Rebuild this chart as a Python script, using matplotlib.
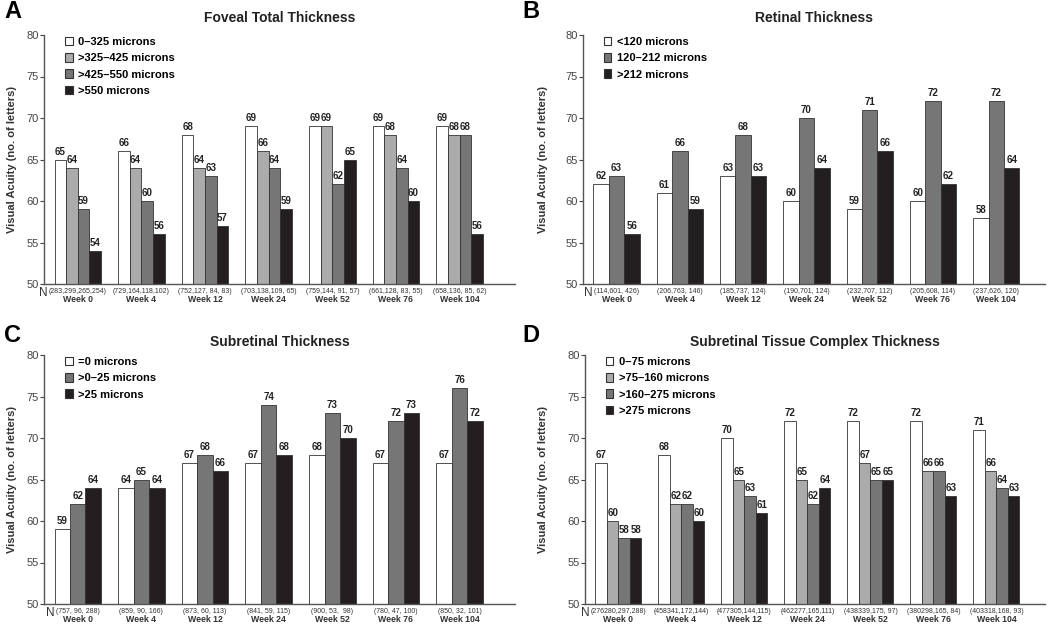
import matplotlib
matplotlib.use("Agg")
import matplotlib.pyplot as plt
from matplotlib.patches import Patch
from matplotlib.transforms import blended_transform_factory, offset_copy

plt.rcParams['font.family'] = ['Liberation Sans', 'DejaVu Sans']

weeks = ["Week 0", "Week 4", "Week 12", "Week 24", "Week 52", "Week 76", "Week 104"]

# A - Foveal total thickness
a_labels = ["0\u2013325 microns", ">325\u2013425 microns", ">425\u2013550 microns", ">550 microns"]
a_vals = [
    [65, 66, 68, 69, 69, 69, 69],
    [64, 64, 64, 66, 69, 68, 68],
    [59, 60, 63, 64, 62, 64, 68],
    [54, 56, 57, 59, 65, 60, 56],
]
a_n = ["(283,299,265,254)", "(729,164,118,102)", "(752,127, 84, 83)", "(703,138,109, 65)",
       "(759,144, 91, 57)", "(661,128, 83, 55)", "(658,136, 85, 62)"]

# B - Retinal thickness
b_labels = ["<120 microns", "120\u2013212 microns", ">212 microns"]
b_vals = [
    [62, 61, 63, 60, 59, 60, 58],
    [63, 66, 68, 70, 71, 72, 72],
    [56, 59, 63, 64, 66, 62, 64],
]
b_n = ["(114,601, 426)", "(206,763, 146)", "(185,737, 124)", "(190,701, 124)",
       "(232,707, 112)", "(205,608, 114)", "(237,626, 120)"]

# C - Subretinal thickness
c_labels = ["=0 microns", ">0\u201325 microns", ">25 microns"]
c_vals = [
    [59, 64, 67, 67, 68, 67, 67],
    [62, 65, 68, 74, 73, 72, 76],
    [64, 64, 66, 68, 70, 73, 72],
]
c_n = ["(757, 96, 288)", "(859, 90, 166)", "(873, 60, 113)", "(841, 59, 115)",
       "(900, 53,  98)", "(780, 47, 100)", "(850, 32, 101)"]

# D - Subretinal tissue complex thickness
d_labels = ["0\u201375 microns", ">75\u2013160 microns", ">160\u2013275 microns", ">275 microns"]
d_vals = [
    [67, 68, 70, 72, 72, 72, 71],
    [60, 62, 65, 65, 67, 66, 66],
    [58, 62, 63, 62, 65, 66, 64],
    [58, 60, 61, 64, 65, 63, 63],
]
d_n = ["(276280,297,288)", "(458341,172,144)", "(477305,144,115)", "(462277,165,111)",
       "(438339,175, 97)", "(380298,165, 84)", "(403318,168, 93)"]

WHITE, LIGHT, DARK, BLACK = "#ffffff", "#ababab", "#767676", "#231f20"

W, H = 1050, 629
fig = plt.figure(figsize=(W / 100, H / 100), dpi=100)
first_labels = []


def px_axes(left, right, top, bottom):
    return fig.add_axes([left / W, 1 - bottom / H, (right - left) / W, (bottom - top) / H])


def panel(ax, letter, title, labels, vals, nlabels, colors, xmax, lx, ty):
    n = len(vals)
    group_w = 0.73
    bw = group_w / n
    x = range(len(weeks))
    for k in range(n):
        pos = [i - group_w / 2 + bw * (k + 0.5) for i in x]
        ax.bar(pos, [v - 50 for v in vals[k]], bottom=50, width=bw, color=colors[k],
               edgecolor="#333333", linewidth=0.6)
        for p, v in zip(pos, vals[k]):
            ax.text(p, v + 0.35, str(v), ha="center", va="bottom", fontsize=7,
                    fontweight="semibold", color="#222222")
    ax.set_ylim(50, 80)
    ax.set_xlim(-0.53, xmax)
    ax.set_yticks(range(50, 81, 5))
    ax.set_xticks([])
    ax.tick_params(axis="y", labelsize=8, length=3, width=0.8, colors="#444444", pad=1)
    for s in ("top", "right"):
        ax.spines[s].set_visible(False)
    for s in ("left", "bottom"):
        ax.spines[s].set_color("#555555")
        ax.spines[s].set_linewidth(1.0)
    tr = blended_transform_factory(ax.transData, ax.transAxes)
    tr_n = offset_copy(tr, fig=fig, y=-4, units="dots")
    tr_w = offset_copy(tr, fig=fig, y=-11, units="dots")
    for i, (nl, wk) in enumerate(zip(nlabels, weeks)):
        t = ax.text(i, 0, nl, transform=tr_n, ha="center", va="top", fontsize=5.0,
                    color="#333333")
        if i == 0:
            first_labels.append((ax, t))
        ax.text(i, 0, wk, transform=tr_w, ha="center", va="top", fontsize=6.3,
                fontweight="bold", color="#333333")
    handles = [Patch(facecolor=c, edgecolor="#333333", linewidth=0.8) for c in colors]
    ax.legend(handles, labels, loc="upper left", bbox_to_anchor=(0.035, 1.01), frameon=False,
              handlelength=0.7, handleheight=0.8, handletextpad=0.5,
              labelspacing=0.55, borderaxespad=0, prop={"weight": "semibold", "size": 8})
    bb = ax.get_position()
    fig.text(lx / W, 1 - ty / H, letter, fontsize=17, fontweight="bold", ha="left", va="center")
    fig.text(bb.x0 + bb.width / 2, 1 - (ty + 6) / H, title, fontsize=10, fontweight="bold",
             ha="center", va="center", color="#222222")


axA = px_axes(44, 515, 35, 284)
panel(axA, "A", "Foveal Total Thickness", a_labels, a_vals, a_n, [WHITE, LIGHT, DARK, BLACK], 6.87, 4, 12)

axB = px_axes(583, 1045, 35, 284)
panel(axB, "B", "Retinal Thickness", b_labels, b_vals, b_n, [WHITE, DARK, BLACK], 6.77, 522, 12)

axC = px_axes(44, 515, 355, 604)
panel(axC, "C", "Subretinal Thickness", c_labels, c_vals, c_n, [WHITE, DARK, BLACK], 6.87, 4, 336)

axD = px_axes(585, 1045, 355, 604)
panel(axD, "D", "Subretinal Tissue Complex Thickness", d_labels, d_vals, d_n,
      [WHITE, LIGHT, DARK, BLACK], 6.77, 522, 336)

for ax, xpx in ((axA, 12), (axB, 543), (axC, 12), (axD, 543)):
    bb = ax.get_position()
    fig.text(xpx / W, bb.y0 + bb.height / 2, "Visual Acuity (no. of letters)", rotation=90,
             fontsize=8, fontweight="bold", ha="center", va="center", color="#333333")

# "N" just left of the first sample-size label of each panel
fig.canvas.draw()
renderer = fig.canvas.get_renderer()
for ax, t in first_labels:
    ext = t.get_window_extent(renderer)
    xf = (ext.x0 - 1) / W
    yf = ext.y1 / H + 0.002
    fig.text(xf, yf, "N", fontsize=8.5, ha="right", va="top", color="#333333")

fig.savefig("out.png", dpi=100, facecolor="white")
